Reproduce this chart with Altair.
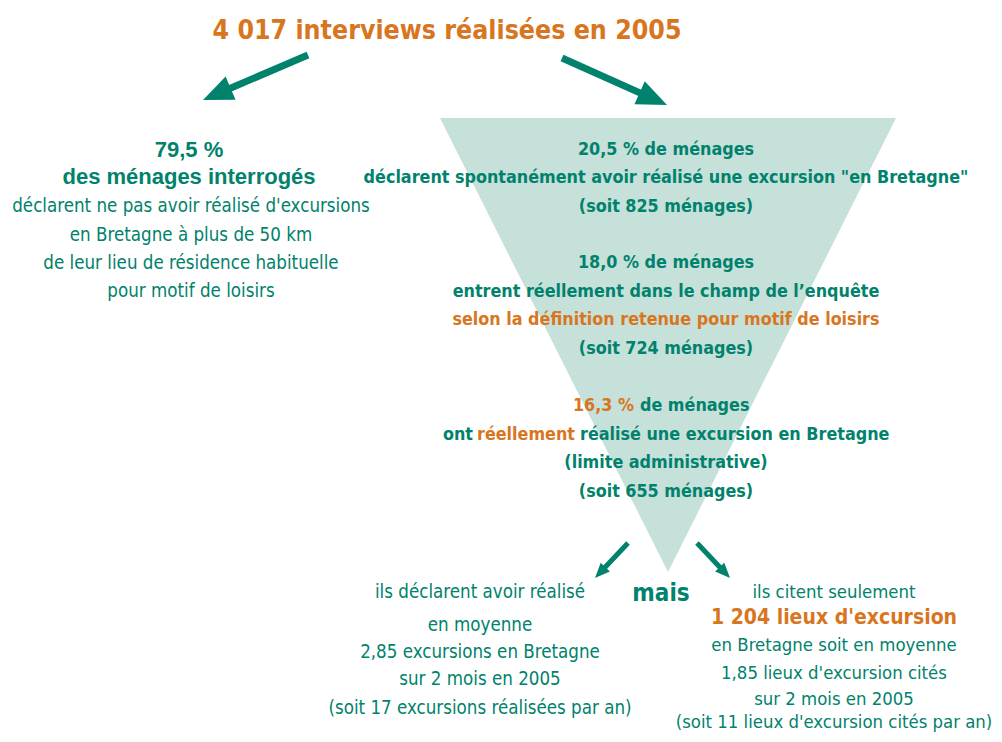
import altair as alt
import pandas as pd
import numpy as np

TEAL = "#00826c"
ORANGE = "#d8761f"
FILL = "#c6e0da"
NARROW = "Liberation Sans Narrow, Arial Narrow, DejaVu Sans Condensed, sans-serif"
WIDE = "Liberation Sans, Arial, sans-serif"

# ---- texts ----
title_text = ["4 017 interviews réalisées en 2005"]
left_head = ["79,5 %", "des ménages interrogés"]
left_body = ["déclarent ne pas avoir réalisé d'excursions",
             "en Bretagne à plus de 50 km",
             "de leur lieu de résidence habituelle",
             "pour motif de loisirs"]
funnel_lines = ["20,5 % de ménages",
                "déclarent spontanément avoir réalisé une excursion \"en Bretagne\"",
                "(soit 825 ménages)",
                "18,0 % de ménages",
                "entrent réellement dans le champ de l\u2019enquête",
                "selon la définition retenue pour motif de loisirs",
                "(soit 724 ménages)",
                "(limite administrative)",
                "(soit 655 ménages)"]
funnel_colors = ["t", "t", "t", "t", "t", "o", "t", "t", "t"]
seg_right = ["16,3 %", "ont"]
seg_right_colors = ["o", "t"]
seg_center = ["réellement"]
seg_left = ["de ménages", "réalisé une excursion en Bretagne"]
mais_text = ["mais"]
bl_body = ["ils déclarent avoir réalisé", "en moyenne", "2,85 excursions en Bretagne",
           "sur 2 mois en 2005", "(soit 17 excursions réalisées par an)"]
br_body = ["ils citent seulement", "en Bretagne soit en moyenne",
           "1,85 lieux d'excursion cités", "sur 2 mois en 2005",
           "(soit 11 lieux d'excursion cités par an)"]
br_bold = ["1 204 lieux d'excursion"]

# ---- layout (image pixel coordinates) ----
cmap = {"t": TEAL, "o": ORANGE}
funnel_y = [150, 178, 207, 263, 292, 320, 349, 463, 492]
left_head_y = [150, 177]
left_body_y = [206, 235, 263, 291]
bl_y = [592, 625, 652, 679, 708]
br_y = [592, 645, 673, 699, 722]

X = alt.X("x:Q", scale=alt.Scale(domain=[8, 994]), axis=None)
Y = alt.Y("y:Q", scale=alt.Scale(domain=[8, 734], reverse=True), axis=None)
X2 = alt.X2("x2:Q")
Y2 = alt.Y2("y2:Q")


def text_layer(texts, xs, ys, colors, font, weight, size, align="center"):
    df = pd.DataFrame({"t": texts, "x": xs, "y": ys, "c": colors})
    return alt.Chart(df).mark_text(font=font, fontWeight=weight, fontSize=size,
                                   align=align, baseline="middle").encode(
        x=X, y=Y, text="t:N", color=alt.Color("c:N", scale=None))


layers = []

# funnel triangle
tri = pd.DataFrame({"x": [440, 668, 896], "y": [118, 118, 118], "y2": [118, 572, 118]})
layers.append(alt.Chart(tri).mark_area(color=FILL, opacity=1).encode(x=X, y=Y, y2=Y2))

# arrows
arrows = pd.DataFrame({
    "x": [308, 562, 628, 697],
    "y": [55, 58, 543, 543],
    "tx": [203, 667, 595, 730],
    "ty": [100, 105, 578, 578],
    "grp": ["big", "big", "small", "small"],
})
arrows["angle"] = np.degrees(np.arctan2(arrows.tx - arrows.x, -(arrows.ty - arrows.y))) % 360
L = np.hypot(arrows.tx - arrows.x, arrows.ty - arrows.y)
head = np.where(arrows.grp == "big", 26, 12)
arrows["x2"] = arrows.tx - (arrows.tx - arrows.x) / L * head
arrows["y2"] = arrows.ty - (arrows.ty - arrows.y) / L * head
for grp, sw, sz in [("big", 7, 3600), ("small", 5, 900)]:
    d = arrows[arrows.grp == grp]
    layers.append(alt.Chart(d).mark_rule(color=TEAL, strokeWidth=sw).encode(
        x=X, y=Y, x2=X2, y2=Y2))
    dh = d.assign(x=d.tx, y=d.ty)
    layers.append(alt.Chart(dh).mark_point(
        shape="M0,0 L0.42,1 L-0.42,1 Z", filled=True, color=TEAL, opacity=1,
        size=sz).encode(x=X, y=Y, angle=alt.Angle("angle:Q", scale=None)))

# title
layers.append(text_layer(title_text, [447], [31], [ORANGE], NARROW, "bold", 26.5))
# left block
layers.append(text_layer(left_head, [189, 189], left_head_y, [TEAL] * 2, WIDE, "bold", 22))
layers.append(text_layer(left_body, [191] * 4, left_body_y, [TEAL] * 4, NARROW, "normal", 18.6))
# funnel
layers.append(text_layer(funnel_lines, [666] * len(funnel_lines), funnel_y,
                         [cmap[c] for c in funnel_colors], NARROW, "bold", 17.8))
layers.append(text_layer(seg_right, [634, 473], [406, 435],
                         [cmap[c] for c in seg_right_colors], NARROW, "bold", 17.8, "right"))
layers.append(text_layer(seg_center, [526], [435], [ORANGE], NARROW, "bold", 17.8))
layers.append(text_layer(seg_left, [640, 580], [406, 435], [TEAL, TEAL],
                         NARROW, "bold", 17.8, "left"))
# bottom
layers.append(text_layer(mais_text, [661], [594], [TEAL], NARROW, "bold", 24))
layers.append(text_layer(bl_body, [480] * 5, bl_y, [TEAL] * 5, NARROW, "normal", 18.6))
layers.append(text_layer(br_body, [834] * 5, br_y, [TEAL] * 5, NARROW, "normal", 18.4))
layers.append(text_layer(br_bold, [834], [618], [ORANGE], NARROW, "bold", 21))

chart = alt.layer(*layers).properties(
    width=986, height=726, padding=0,
    autosize=alt.AutoSizeParams(type="none")
).configure_view(stroke="transparent", strokeWidth=0)

chart.save("out.html", embed_options={"renderer": "svg", "actions": False})
